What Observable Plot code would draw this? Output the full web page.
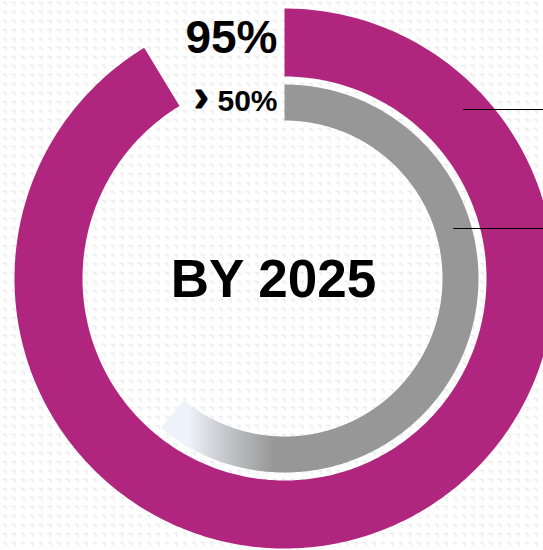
<!DOCTYPE html>
<html>
<head>
<meta charset="utf-8">
<script src="https://cdn.jsdelivr.net/npm/d3@7"></script>
<script src="https://cdn.jsdelivr.net/npm/@observablehq/plot@0.6"></script>
<style>
  html, body { margin: 0; padding: 0; overflow: hidden; }
  body {
    width: 543px; height: 550px;
    background-color: #ffffff;
    background-image: url("data:image/svg+xml,%3Csvg xmlns='http://www.w3.org/2000/svg' width='9' height='9'%3E%3Cpath d='M2.5 2.5h3.5v3.5' stroke='%23ececec' stroke-width='1.3' fill='none'/%3E%3C/svg%3E");
    background-size: 9px 9px;
  }
</style>
</head>
<body>
<div id="chart"></div>
<script>
// ---- data ----
const ringNames    = ["Outer", "Inner"];
const ringShares   = [0.913, 0.61];           // share of the full circle that each ring covers
const ringLabels   = ["95%", "50%"];
const ringPrefix   = ["", "›"];
const centerLabel  = ["BY 2025"];
const leaderAngles = [46.6, 73.5];           // degrees clockwise from 12 o'clock, one per ring

// ---- layout ----
const W = 543, H = 550;
const cx = 284, cy = 278;
const radii = [[202, 270], [158, 194]];      // [inner, outer] per ring
const leaderRadii = [246, 176];
const fills = ["#B0267F", "url(#grayfade)"];

function arcPolygon(i) {
  const [r0, r1] = radii[i];
  const end = ringShares[i] * 2 * Math.PI;
  const n = 360;
  const pts = [];
  for (let k = 0; k <= n; k++) {
    const a = end * k / n;
    pts.push({x: r1 * Math.sin(a), y: -r1 * Math.cos(a)});
  }
  for (let k = n; k >= 0; k--) {
    const a = end * k / n;
    pts.push({x: r0 * Math.sin(a), y: -r0 * Math.cos(a)});
  }
  return pts;
}

const leaders = leaderAngles.map((deg, i) => {
  const a = deg * Math.PI / 180;
  const r = leaderRadii[i];
  return {x1: r * Math.sin(a), y: -r * Math.cos(a), x2: W - cx};
});

const gradientDefs = (index, scales) => {
  const defs = d3.create("svg:defs");
  const g = defs.append("linearGradient")
    .attr("id", "grayfade")
    .attr("gradientUnits", "userSpaceOnUse")
    .attr("x1", scales.x(-96)).attr("x2", scales.x(-10))
    .attr("y1", 0).attr("y2", 0);
  g.append("stop").attr("offset", "0%").attr("stop-color", "#eef2fb");
  g.append("stop").attr("offset", "45%").attr("stop-color", "#c4c5c8");
  g.append("stop").attr("offset", "100%").attr("stop-color", "#979797");
  return defs.node();
};

const font = "'Liberation Sans', Arial, sans-serif";

const chart = Plot.plot({
  width: W,
  height: H,
  margin: 0,
  x: {domain: [-cx, W - cx], range: [0, W], axis: null},
  y: {domain: [-cy, H - cy], range: [0, H], axis: null},
  style: {background: "transparent", fontFamily: font, overflow: "visible"},
  marks: [
    gradientDefs,
    Plot.line(arcPolygon(0), {x: "x", y: "y", fill: fills[0], stroke: "none"}),
    Plot.line(arcPolygon(1), {x: "x", y: "y", fill: fills[1], stroke: "none"}),
    Plot.link(leaders, {x1: "x1", x2: "x2", y1: "y", y2: "y", stroke: "#000", strokeWidth: 1.2}),
    Plot.text([ringLabels[0]], {x: [-7], y: [-240], text: d => d, textAnchor: "end", lineAnchor: "middle",
      fontSize: 46, fontWeight: "bold", fill: "#000"}),
    Plot.text([ringLabels[1]], {x: [-7], y: [-177], text: d => d, textAnchor: "end", lineAnchor: "middle",
      fontSize: 30, fontWeight: "bold", fill: "#000"}),
    Plot.text([ringPrefix[1]], {x: [-83], y: [-182], text: d => d, textAnchor: "middle", lineAnchor: "middle",
      fontSize: 46, fontWeight: "bold", fill: "#000", stroke: "#000", strokeWidth: 0.8}),
    Plot.text(centerLabel, {x: [-11], y: [2], text: d => d, textAnchor: "middle", lineAnchor: "middle",
      fontSize: 53, fontWeight: "bold", fill: "#000"})
  ]
});
document.getElementById("chart").appendChild(chart);
</script>
</body>
</html>
